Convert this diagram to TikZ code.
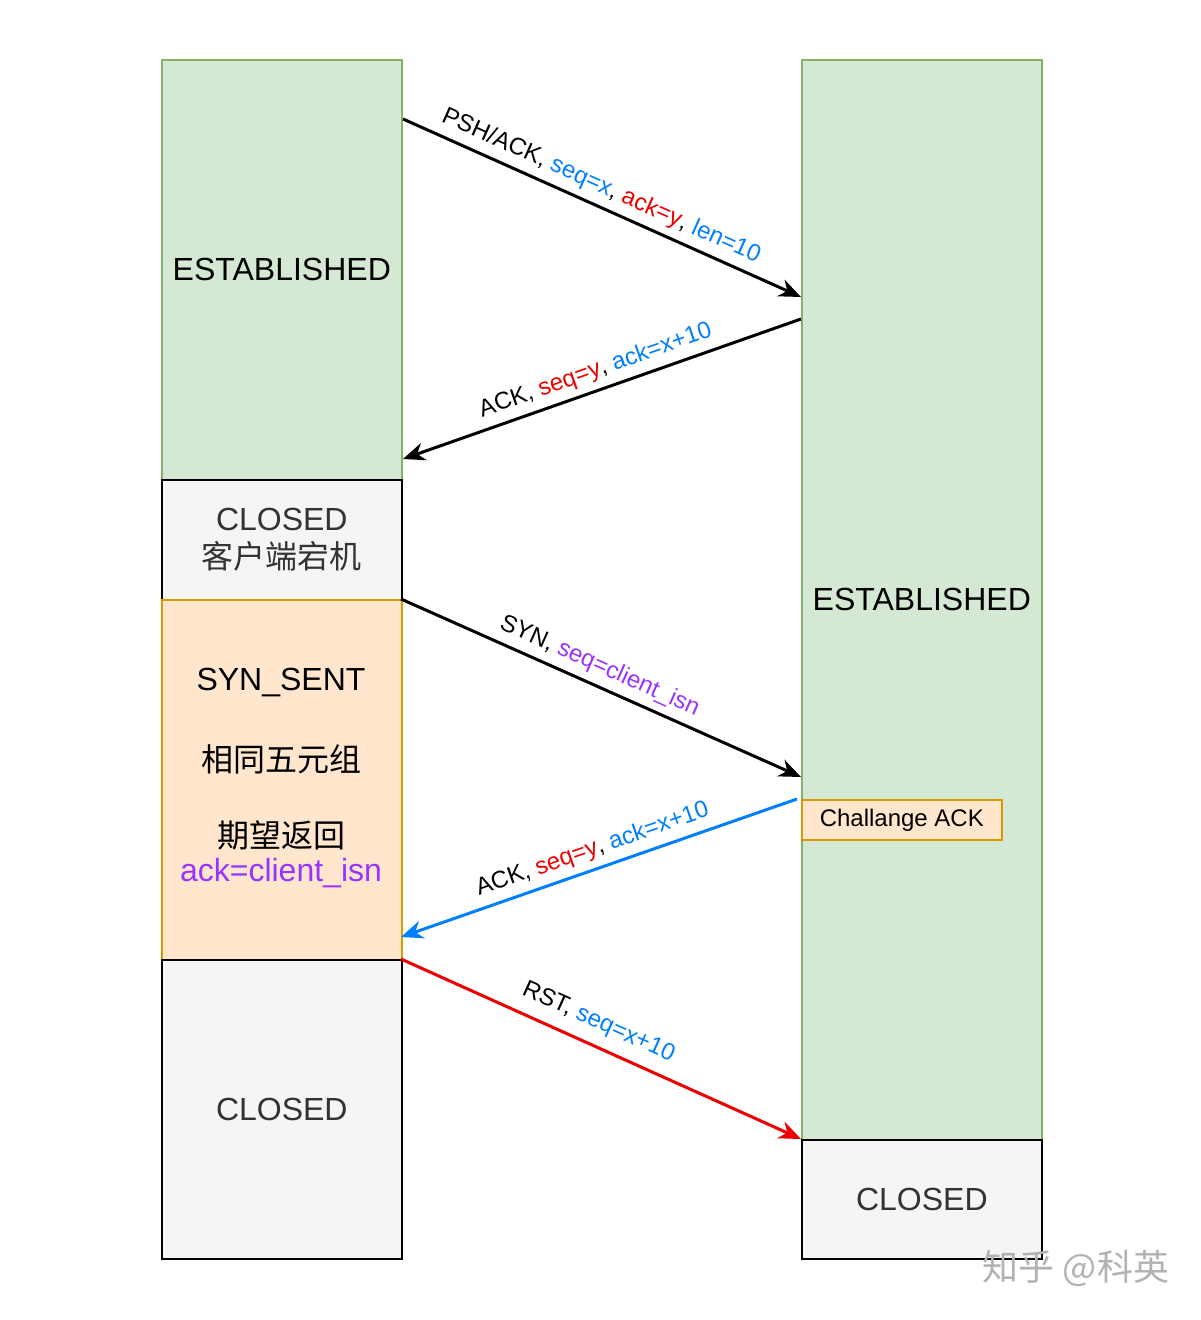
\documentclass[tikz,border=0pt]{standalone}
\usepackage{fontspec}
\setmainfont{Liberation Sans}
\newfontfamily\cjk{Noto Sans CJK SC}
\usetikzlibrary{arrows.meta}
\definecolor{gfill}{HTML}{D5E8D4}
\definecolor{gline}{HTML}{82B366}
\definecolor{ofill}{HTML}{FFE6CC}
\definecolor{oline}{HTML}{D79B00}
\definecolor{kfill}{HTML}{F5F5F5}
\definecolor{ktext}{HTML}{333333}
\definecolor{cblue}{HTML}{007FFF}
\definecolor{cred}{HTML}{EE0000}
\definecolor{cpurple}{HTML}{9933FF}
\newcommand\bigf{\fontsize{16pt}{19pt}\selectfont}
\newcommand\midf{\fontsize{12pt}{14pt}\selectfont}
\begin{document}
\begin{tikzpicture}[x=0.5pt,y=-0.5pt,
  box/.style={draw, line width=0.8pt, anchor=north west, minimum width=120pt, inner sep=0pt, align=center, font=\bigf},
  greenbox/.style={box, fill=gfill, draw=gline},
  orangebox/.style={box, fill=ofill, draw=oline},
  graybox/.style={box, fill=kfill, draw=black, text=ktext},
  txt/.style={font=\bigf, inner sep=0pt, align=center},
  arr/.style={line width=1.5pt, -{Stealth[length=11pt,width=9pt,inset=3.5pt]}},
  rarr/.style={line width=1.5pt, {Stealth[length=11pt,width=9pt,inset=3.5pt]}-},
  lbl/.style={font=\midf, sloped, above}
]
\useasboundingbox (0,0) rectangle (1200,1320);

% left column
\node[greenbox, minimum height=210pt] (lest) at (161,59) {ESTABLISHED};
\node[graybox, minimum height=60pt] (lcrash) at (161,479) {CLOSED\\{\cjk 客户端宕机}};
\node[orangebox, minimum height=180pt] (lsyn) at (161,599) {};
\node[graybox, minimum height=149.5pt] (lclosed) at (161,959) {CLOSED};

\node[txt] (t1) at (281,683) {SYN\_SENT};
\node[txt] (t2) at (281,759) {\cjk 相同五元组};
\node[txt] (t3) at (281,835) {\cjk 期望返回};
\node[txt, text=cpurple] (t4) at (281,873) {ack=client\_isn};

% right column
\node[greenbox, minimum height=540pt] (rest) at (801,59) {ESTABLISHED};
\node[graybox, minimum height=59.5pt] (rclosed) at (801,1139) {CLOSED};
\node[orangebox, minimum width=100pt, minimum height=20pt, font=\midf] (chal) at (801,799) {Challange ACK};

% connector end points
\coordinate (a1s) at (403,119);
\coordinate (a1e) at (801,297);
\coordinate (a2l) at (403,459);
\coordinate (a2r) at (801,319);
\coordinate (a3s) at (401,599);
\coordinate (a3e) at (801,777);
\coordinate (a4l) at (401,937);
\coordinate (a4r) at (797,799);
\coordinate (a5s) at (401,959);
\coordinate (a5e) at (801,1139);

\draw[arr] (a1s) -- (a1e) node[lbl, pos=0.478] (l1) {PSH/ACK, \textcolor{cblue}{seq=x}, \textcolor{cred}{ack=y}, \textcolor{cblue}{len=10}};
\draw[rarr] (a2l) -- (a2r) node[lbl, pos=0.5] (l2) {ACK, \textcolor{cred}{seq=y}, \textcolor{cblue}{ack=x+10}};
\draw[arr] (a3s) -- (a3e) node[lbl, pos=0.477] (l3) {SYN, \textcolor{cpurple}{seq=client\_isn}};
\draw[rarr, draw=cblue, fill=cblue] (a4l) -- (a4r) node[lbl, pos=0.5, fill=none] (l4) {ACK, \textcolor{cred}{seq=y}, \textcolor{cblue}{ack=x+10}};
\draw[arr, draw=cred] (a5s) -- (a5e) node[lbl, pos=0.47, above=2pt] (l5) {RST, \textcolor{cblue}{seq=x+10}};

% watermark
\node[font=\cjk\fontsize{18pt}{20pt}\selectfont, text=black!30, inner sep=0pt] (wm) at (1076,1268) {知乎 @科英};
\end{tikzpicture}
\end{document}
